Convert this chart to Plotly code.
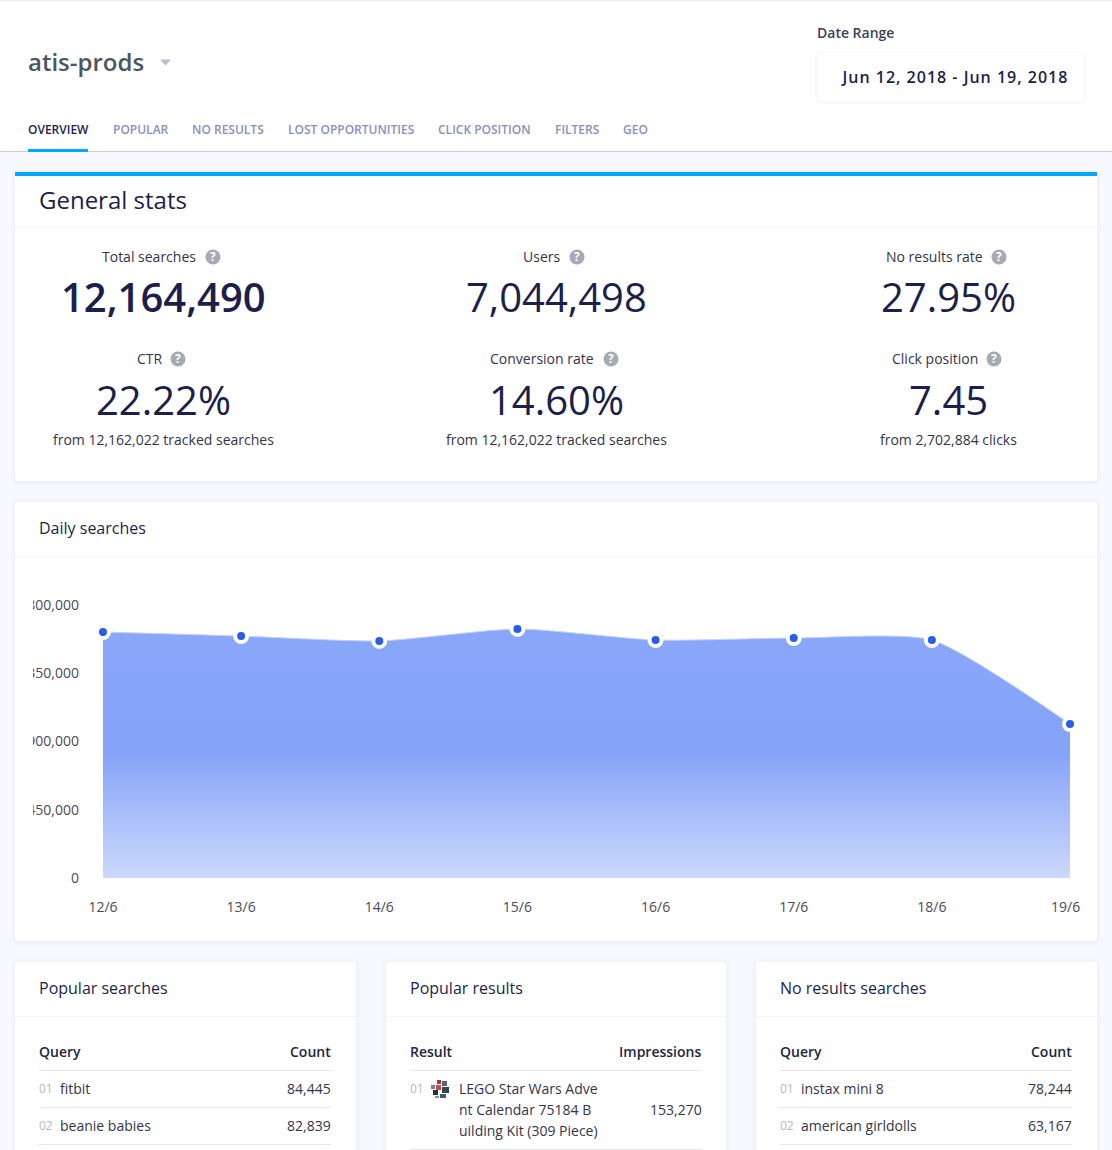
import plotly.graph_objects as go

W, H = 1112, 1150
FONT = "Open Sans"
INK = "#1c1f4a"
TEXT = "#33354a"
AXIS = "#4b4b55"

# ---- data ----
days = ["12/6", "13/6", "14/6", "15/6", "16/6", "17/6", "18/6", "19/6"]
daily_searches = [1622000, 1595000, 1563000, 1642000, 1569000, 1582000, 1569000, 1015000]
y_ticks = [0, 450000, 900000, 1350000, 1800000]
y_tick_labels = ["0", "450,000", "900,000", "1,350,000", "1,800,000"]

tabs = ["OVERVIEW", "POPULAR", "NO RESULTS", "LOST OPPORTUNITIES", "CLICK POSITION", "FILTERS", "GEO"]
tab_left = [28, 112.5, 191.5, 287.5, 437.5, 554.5, 622.5]

stat_labels = ["Total searches", "Users", "No results rate", "CTR", "Conversion rate", "Click position"]
stat_values = ["12,164,490", "7,044,498", "27.95%", "22.22%", "14.60%", "7.45"]
stat_notes = ["", "", "", "from 12,162,022 tracked searches", "from 12,162,022 tracked searches", "from 2,702,884 clicks"]

popular_queries = ["fitbit", "beanie babies"]
popular_counts = ["84,445", "82,839"]
noresult_queries = ["instax mini 8", "american girldolls"]
noresult_counts = ["78,244", "63,167"]
result_lines = ["LEGO Star Wars Adve", "nt Calendar 75184 B", "uilding Kit (309 Piece)"]
result_impressions = "153,270"
date_range = "Jun 12, 2018 - Jun 19, 2018"

shapes, notes = [], []


def px(x):
    return x / W


def py(y):
    return 1 - y / H


def rect(x0, y0, x1, y1, fill, layer="below", radius=0):
    if radius:
        r = radius
        path = (f"M{px(x0+r)},{py(y0)} L{px(x1-r)},{py(y0)} Q{px(x1)},{py(y0)} {px(x1)},{py(y0+r)} "
                f"L{px(x1)},{py(y1-r)} Q{px(x1)},{py(y1)} {px(x1-r)},{py(y1)} "
                f"L{px(x0+r)},{py(y1)} Q{px(x0)},{py(y1)} {px(x0)},{py(y1-r)} "
                f"L{px(x0)},{py(y0+r)} Q{px(x0)},{py(y0)} {px(x0+r)},{py(y0)} Z")
        shapes.append(dict(type="path", xref="paper", yref="paper", path=path,
                           fillcolor=fill, line_width=0, layer=layer))
    else:
        shapes.append(dict(type="rect", xref="paper", yref="paper", x0=px(x0), x1=px(x1),
                           y0=py(y0), y1=py(y1), fillcolor=fill, line_width=0, layer=layer))


def text(s, x, y, size=14, color=TEXT, anchor="left", weight=400):
    notes.append(dict(text=s, x=px(x), y=py(y), xref="paper", yref="paper", xanchor=anchor,
                      yanchor="middle", showarrow=False, borderpad=0, borderwidth=0,
                      font=dict(family=FONT, size=size, color=color, weight=weight)))


def card(x0, y0, x1, y1, radius=3):
    for i in (4, 3, 2, 1):
        rect(x0 - i, y0 - i + 1, x1 + i, y1 + i + 1, "rgba(60,66,130,0.012)", radius=radius + i)
    rect(x0, y0, x1, y1, "#ffffff", radius=radius)


def help_icon(cx, cy):
    shapes.append(dict(type="circle", xref="paper", yref="paper", x0=px(cx - 7.5), x1=px(cx + 7.5),
                       y0=py(cy + 7.5), y1=py(cy - 7.5), fillcolor="#a6aab5", line_width=0, layer="below"))
    text("?", cx, cy - 0.5, size=12, color="#ffffff", anchor="center", weight=700)


# ---- header ----
rect(0, 0, W, 151, "#ffffff")
rect(0, 0, W, 1.5, "#eef0f6")
rect(0, 151, W, 152, "#c9cbe0")
rect(28, 149, 88, 152, "#00a9ff")
text("atis-prods", 28, 61.5, size=24, color="#4b5661", weight=600)
shapes.append(dict(type="path", xref="paper", yref="paper", fillcolor="#b9bdcd", line_width=0, layer="below",
                   path=f"M{px(160)},{py(59.5)} L{px(171)},{py(59.5)} L{px(165.5)},{py(65.5)} Z"))
for i, (t, x) in enumerate(zip(tabs, tab_left)):
    text(t, x, 129.5, size=12, color=INK if i == 0 else "#8a8fbe", weight=600)
text("Date Range", 817, 33, size=14, color="#3c4256", weight=600)
for i in (3, 2, 1):
    rect(817 - i, 53 - i + 1, 1084 + i, 101 + i + 1, "rgba(60,66,130,0.012)", radius=4 + i)
rect(817, 53, 1084, 101, "#ffffff", radius=4)
text(date_range, 954, 77, size=16, color=INK, anchor="center", weight=600)

# ---- general stats ----
card(15, 172, 1097, 481)
rect(15, 172, 1097, 176, "#00a9ff")
rect(15, 227, 1097, 228, "#f5f6fa")
text("General stats", 39, 199.5, size=24, color=INK)
stat_cx = [163.5, 556, 948.5]
label_icon = [(213, 257), (577, 257), (999, 257), (178, 359), (611, 359), (994, 359)]
label_cx = [149, 541.5, 934.5, 149.5, 541.5, 934.5]
for i in range(6):
    c = i % 3
    top = i < 3
    text(stat_labels[i], label_cx[i], 256.5 if top else 358.5, anchor="center")
    help_icon(*label_icon[i])
    text(stat_values[i], stat_cx[c], 297 if top else 399.5, size=40, color=INK, anchor="center",
         weight=600 if i == 0 else 400)
    if stat_notes[i]:
        text(stat_notes[i], stat_cx[c], 439.5, anchor="center")

# ---- daily searches card ----
card(15, 502, 1097, 941)
rect(15, 556, 1097, 557, "#f5f6fa")
text("Daily searches", 39, 528, size=16, color=INK)
# clips the long tick labels on the left, as the chart container does
rect(16, 595, 33, 825, "#ffffff", layer="above")
text("19/6", 1065, 906.5, anchor="center", color=AXIS)

# ---- bottom cards ----
for (x0, x1, title, h1, h2) in [(15, 356, "Popular searches", "Query", "Count"),
                                (386, 726, "Popular results", "Result", "Impressions"),
                                (756, 1097, "No results searches", "Query", "Count")]:
    card(x0, 962, x1, H + 10)
    rect(x0, 1016, x1, 1017, "#f5f6fa")
    text(title, x0 + 24, 988, size=16, color=INK)
    text(h1, x0 + 24, 1051.5, color="#23263f", weight=600)
    text(h2, x1 - 25, 1051.5, color="#23263f", anchor="right", weight=600)
    rect(x0 + 24, 1070, x1 - 25, 1071, "#e4e6ef")

for x0, x1, qs, cs in [(39, 331, popular_queries, popular_counts), (780, 1072, noresult_queries, noresult_counts)]:
    for j, (q, n) in enumerate(zip(qs, cs)):
        y = 1088.5 + 37 * j
        text(f"0{j+1}", x0, y, size=12, color="#b4b8c6")
        text(q, x0 + 21, y)
        text(n, x1, y, anchor="right")
        rect(x0, y + 18.5, x1, y + 19.5, "#e4e6ef")

text("01", 410, 1088.5, size=12, color="#b4b8c6")
for j, line in enumerate(result_lines):
    text(line, 459, 1088.5 + 21 * j)
text(result_impressions, 702, 1109.5, anchor="right")
rect(410, 1149, 702, 1150, "#e4e6ef")
# product thumbnail
for (a, b, c, d, col) in [(437, 1080, 441, 1084, "#b5303a"), (442, 1081, 447, 1086, "#59636f"),
                          (431, 1085, 435, 1089, "#7b808a"), (436, 1085, 441, 1090, "#c94a50"),
                          (442, 1087, 449, 1093, "#3a4450"), (433, 1090, 438, 1095, "#2b2f3a"),
                          (440, 1094, 446, 1098, "#47586b"), (435, 1096, 439, 1098, "#8a929c")]:
    rect(a, b, c, d, col)

# ---- chart ----
fig = go.Figure(go.Scatter(
    x=days, y=daily_searches, mode="lines+markers", cliponaxis=False, hoverinfo="skip",
    line=dict(shape="spline", smoothing=0.6, color="#c3d0fb", width=1),
    marker=dict(size=12, color="#2a5ce6", line=dict(color="#ffffff", width=4)),
    fill="tozeroy",
    fillgradient=dict(type="vertical", start=0, stop=1800000,
                      colorscale=[[0, "#ccd9fc"], [0.47, "#84a2f8"], [1, "#8ba8fa"]]),
))

fig.update_layout(
    width=W, height=H, autosize=False, margin=dict(l=0, r=0, t=0, b=0, pad=0),
    paper_bgcolor="#f8f9fe", plot_bgcolor="rgba(0,0,0,0)", showlegend=False,
    shapes=shapes, annotations=notes, font=dict(family=FONT, size=14, color=TEXT),
    xaxis=dict(domain=[px(103), px(1070)], type="category", range=[0, 7], showgrid=False, zeroline=False,
               showline=False, ticks="", tickmode="array", tickvals=days[:-1], ticktext=days[:-1],
               ticklabelstandoff=19, automargin=False, fixedrange=True,
               tickfont=dict(family=FONT, size=14, color=AXIS)),
    yaxis=dict(domain=[py(878), py(605)], range=[0, 1800000], showgrid=False, zeroline=False,
               showline=False, ticks="", tickmode="array", tickvals=y_ticks, ticktext=y_tick_labels,
               ticklabelstandoff=23, automargin=False, fixedrange=True,
               tickfont=dict(family=FONT, size=14, color=AXIS)),
)

# the date range is letter-spaced in the reference
post = ("document.body.style.margin='0';document.body.style.overflow='hidden';"
        "document.querySelectorAll('.annotation-text').forEach(function(t){"
        "if(t.textContent.indexOf('Jun 12')===0){t.style.letterSpacing='1px';}});")
fig.write_html("out.html", config=dict(displayModeBar=False, staticPlot=True), post_script=post)
